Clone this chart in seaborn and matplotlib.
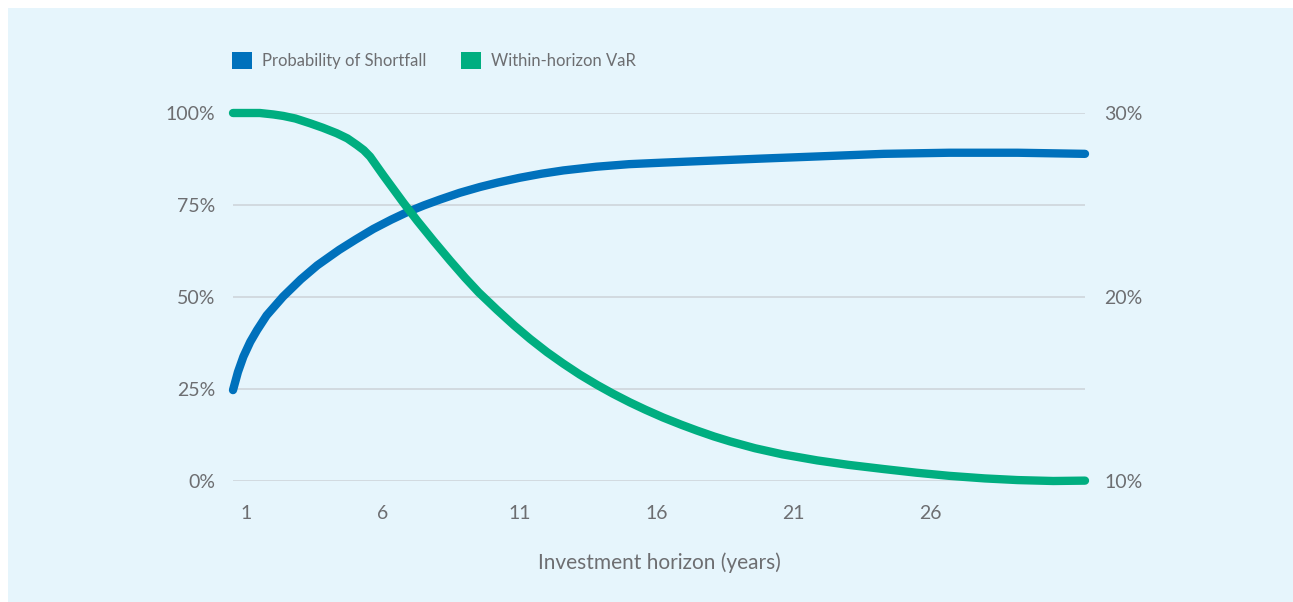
import matplotlib
matplotlib.use("Agg")
import matplotlib.pyplot as plt
from matplotlib.patches import Patch, Rectangle
from matplotlib.ticker import FixedLocator
import seaborn as sns
import pandas as pd

# Probability of shortfall (%), left axis, by investment horizon (years)
shortfall_years = [0.52, 0.7, 0.9, 1.15, 1.4, 1.75, 2.35, 3.0, 3.6, 4.4, 5.0,
                   5.65, 6.3, 6.87, 7.5, 8.09, 8.8, 9.55, 10.2, 11.0, 11.8,
                   12.6, 13.8, 15.0, 16.2, 17.5, 19.8, 21.9, 24.3, 26.7, 29.2,
                   31.66]
shortfall = [24.7, 29.6, 33.8, 37.8, 41.0, 45.0, 50.1, 54.8, 58.6, 62.8, 65.6,
             68.5, 71.0, 73.0, 74.9, 76.5, 78.3, 79.9, 81.1, 82.4, 83.5,
             84.4, 85.4, 86.1, 86.5, 86.9, 87.6, 88.2, 88.9, 89.2, 89.2,
             88.9]

# Within-horizon value at risk (%), right axis, by investment horizon (years)
var_years = [0.52, 1.0, 1.5, 2.0, 2.36, 2.8, 3.34, 3.8, 4.31, 4.7, 5.05, 5.3,
             5.53, 6.02, 6.75, 7.25, 7.85, 8.46, 9.0, 9.5, 10.17, 10.8, 11.38,
             12.0, 12.59, 13.2, 13.83, 14.4, 15.03, 15.6, 16.24, 16.9, 17.48,
             18.1, 18.69, 19.6, 20.6, 21.87, 23.0, 24.3, 25.5, 26.7, 28.0,
             29.2, 30.5, 31.66]
var = [30.0, 30.0, 30.0, 29.92, 29.84, 29.7, 29.44, 29.2, 28.9, 28.62, 28.26,
       27.98, 27.63, 26.6, 25.12, 24.15, 23.05, 21.97, 21.05, 20.25, 19.3,
       18.45, 17.72, 17.0, 16.38, 15.78, 15.22, 14.75, 14.27, 13.87, 13.45,
       13.06, 12.74, 12.42, 12.15, 11.78, 11.45, 11.12, 10.88, 10.65, 10.45,
       10.28, 10.14, 10.05, 10.0, 10.02]

x_ticks = [1, 6, 11, 16, 21, 26]
left_ticks = [0, 25, 50, 75, 100]
right_ticks = [10, 20, 30]
series_names = ["Probability of Shortfall", "Within-horizon VaR"]
x_title = "Investment horizon (years)"

BLUE = "#0071BC"
GREEN = "#00AE80"
BG = "#E6F5FC"
TEXT = "#6D6E71"
GRID = "#CDD3D8"

sns.set_theme(style="white")
plt.rcParams["font.family"] = ["Lato", "DejaVu Sans"]

W, H = 1293, 602
fig = plt.figure(figsize=(W / 100, H / 100), dpi=100, facecolor="white")
fig.patches.append(Rectangle((8 / W, 0), 1 - 8 / W, 1 - 8 / H,
                             transform=fig.transFigure, facecolor=BG,
                             edgecolor="none", zorder=-10))

x0, x1 = 233, 1085
y_top, y_bot = 113, 481
ax = fig.add_axes([x0 / W, 1 - y_bot / H, (x1 - x0) / W, (y_bot - y_top) / H])
ax.set_facecolor("none")
ax2 = ax.twinx()

df_short = pd.DataFrame({"year": shortfall_years, "value": shortfall})
df_var = pd.DataFrame({"year": var_years, "value": var})

sns.lineplot(data=df_short, x="year", y="value", ax=ax, color=BLUE,
             linewidth=6, legend=False, zorder=3)
sns.lineplot(data=df_var, x="year", y="value", ax=ax2, color=GREEN,
             linewidth=6, legend=False, zorder=3)
for line in ax.get_lines() + ax2.get_lines():
    line.set_clip_on(False)
    line.set_solid_capstyle("round")
    line.set_solid_joinstyle("round")

ax.set_xlim(shortfall_years[0], shortfall_years[-1])
ax.set_ylim(0, 100)
ax2.set_ylim(10, 30)

ax.xaxis.set_major_locator(FixedLocator(x_ticks))
ax.set_xticklabels([str(t) for t in x_ticks])
ax.yaxis.set_major_locator(FixedLocator(left_ticks))
ax.set_yticklabels([f"{t}%" for t in left_ticks])
ax2.yaxis.set_major_locator(FixedLocator(right_ticks))
ax2.set_yticklabels([f"{t}%" for t in right_ticks])

ax.grid(axis="y", color=GRID, linewidth=1.1, zorder=0)
ax.grid(axis="x", visible=False)
ax2.grid(False)
for a in (ax, ax2):
    for s in a.spines.values():
        s.set_visible(False)

ax.tick_params(axis="y", length=0, pad=13, labelsize=14, labelcolor=TEXT)
ax.tick_params(axis="x", length=0, pad=17, labelsize=14, labelcolor=TEXT)
ax2.tick_params(axis="y", length=0, pad=14, labelsize=14, labelcolor=TEXT)

ax.set_xlabel(x_title, fontsize=15, color=TEXT, labelpad=22)
ax.set_ylabel("")
ax2.set_ylabel("")

handles = [Patch(facecolor=BLUE, edgecolor="none"),
           Patch(facecolor=GREEN, edgecolor="none")]
fig.legend(handles, series_names, loc="upper left",
           bbox_to_anchor=(232 / W, 1 - 52 / H), ncol=2, frameon=False,
           fontsize=12, labelcolor=TEXT, handlelength=1.2, handleheight=1.15,
           handletextpad=0.6, columnspacing=2.1, borderpad=0, borderaxespad=0)

fig.savefig("out.png", dpi=100, facecolor="white")
